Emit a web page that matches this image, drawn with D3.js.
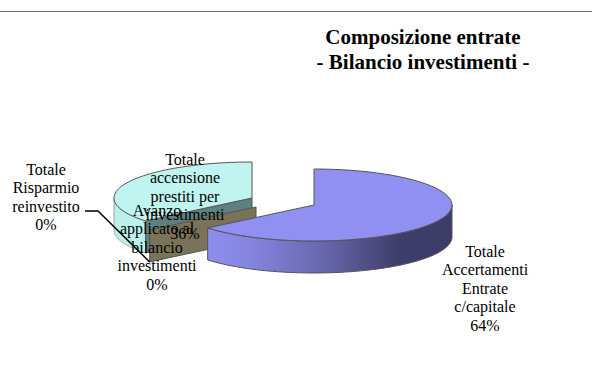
<!DOCTYPE html>
<html><head><meta charset="utf-8">
<script src="https://cdn.jsdelivr.net/npm/d3@7"></script>
<style>html,body{margin:0;background:#fff}svg{display:block}text{font-family:"Liberation Serif",serif;fill:#000}</style>
</head><body><svg width="592" height="369"></svg>
<script>
const titleLines = ["Composizione entrate", "- Bilancio investimenti -"];
const categories = ["Totale Accertamenti Entrate c/capitale", "Avanzo applicato al bilancio investimenti", "Totale accensione prestiti per investimenti", "Totale Risparmio reinvestito"];
const values = [64, 0, 36, 0];
const labelLines = [
  ["Totale","Accertamenti","Entrate","c/capitale","64%"],
  ["Avanzo","applicato al","bilancio","investimenti","0%"],
  ["Totale","accensione","prestiti per","investimenti","36%"],
  ["Totale","Risparmio","reinvestito","0%"]
];
const labelAnchor = [[485,257],[157,216],[185,165],[46,175]];
const centers = [[314,205],[256,207],[252,198],[252,198]];
const topColors = ["#9090f2","#7a7358","#c0f4f0","#c0f4f0"];
const RX = 138, RY = 36, DEPTH = 32;

const svg = d3.select("svg");
const defs = svg.append("defs");
const grad = defs.append("linearGradient").attr("id","wall").attr("gradientUnits","userSpaceOnUse")
  .attr("x1",205).attr("x2",452).attr("y1",0).attr("y2",0);
[[0,"#8e8ef0"],[0.18,"#8585e0"],[0.5,"#6565a8"],[0.78,"#3e3e6c"],[1,"#3c3c68"]].forEach(s=>grad.append("stop").attr("offset",s[0]).attr("stop-color",s[1]));

svg.append("line").attr("x1",0).attr("x2",592).attr("y1",11.5).attr("y2",11.5).attr("stroke","#777").attr("stroke-width",1);

const arcs = d3.pie().value(d=>d).sort(null)(values);
const pt = (i,a,dz=0)=>[centers[i][0]+RX*Math.sin(a), centers[i][1]-RY*Math.cos(a)+dz];
const arcPts = (i,a0,a1,dz=0)=>d3.range(0,61).map(k=>pt(i,a0+(a1-a0)*k/60,dz));
const pathLine = d3.line();
const edge = "#555";

function wallFace(i,a0,a1,fill,stroke){
  const up = arcPts(i,a0,a1), down = arcPts(i,a1,a0,DEPTH);
  svg.append("path").attr("d",pathLine(up.concat(down))+"Z").attr("fill",fill).attr("stroke",stroke).attr("stroke-width",1);
}
function cutFace(i,a,fill){
  const ctr=[centers[i][0],centers[i][1]], p=pt(i,a);
  svg.append("path").attr("d",pathLine([ctr,p,[p[0],p[1]+DEPTH],[ctr[0],ctr[1]+DEPTH]])+"Z").attr("fill",fill).attr("stroke",edge).attr("stroke-width",1);
}
function topFace(i,a0,a1,fill){
  svg.append("path").attr("d",pathLine([centers[i]].concat(arcPts(i,a0,a1)))+"Z").attr("fill",fill).attr("stroke",edge).attr("stroke-width",1);
}
const cyanArc = arcs[2];
wallFace(2,cyanArc.startAngle,3*Math.PI/2,"#bcf0ec","#8fa8a8");
cutFace(2,cyanArc.startAngle,"#5f8080");
topFace(2,cyanArc.startAngle,cyanArc.endAngle,topColors[2]);
cutFace(1,arcs[1].startAngle,topColors[1]);
const blueArc = arcs[0];
wallFace(0,Math.PI/2,blueArc.endAngle,"url(#wall)",edge);
topFace(0,blueArc.startAngle,blueArc.endAngle,topColors[0]);

const tip = pt(1,arcs[1].startAngle,DEPTH);
svg.append("path").attr("d",pathLine([[85,211],[98,211],tip])).attr("fill","none").attr("stroke","#000").attr("stroke-width",1.5);

labelLines.forEach((ls,i)=>{
  const t = svg.append("text").attr("text-anchor","middle").attr("font-size",16);
  ls.forEach((s,k)=>t.append("tspan").attr("x",labelAnchor[i][0]).attr("y",labelAnchor[i][1]+k*18.4).text(s));
});
const tt = svg.append("text").attr("text-anchor","middle").attr("font-size",21).attr("font-weight","bold");
titleLines.forEach((s,k)=>tt.append("tspan").attr("x",423).attr("y",44+k*25).text(s));
</script></body></html>
